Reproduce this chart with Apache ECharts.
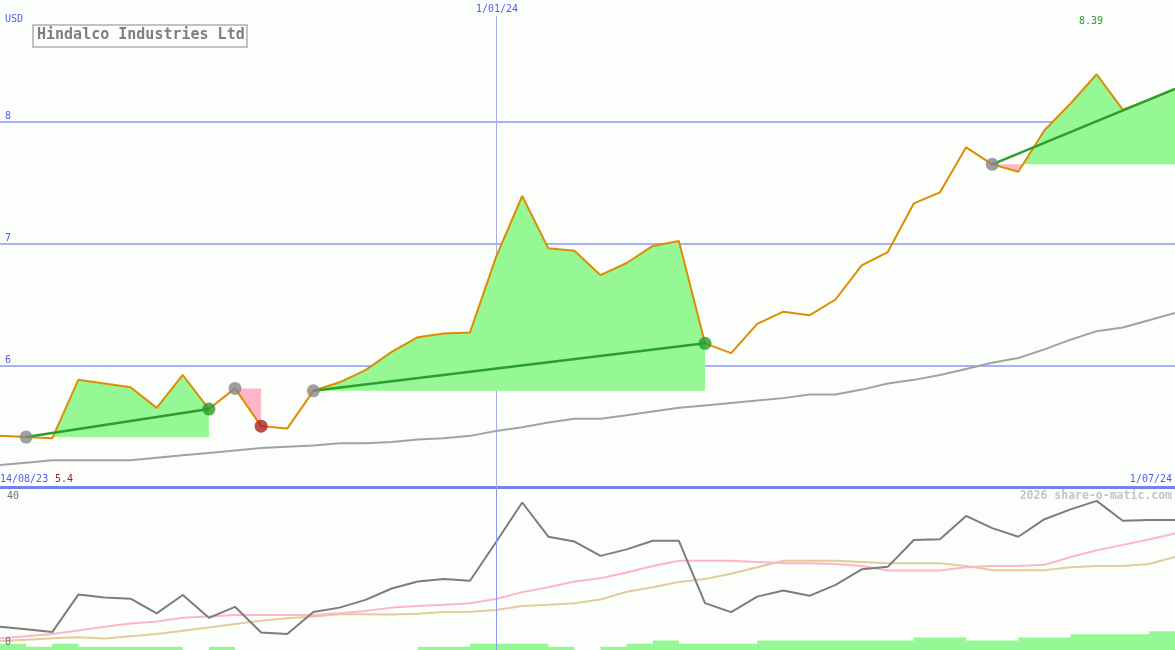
<!DOCTYPE html>
<html>
<head>
<meta charset="utf-8">
<script src="https://cdn.jsdelivr.net/npm/echarts@6/dist/echarts.min.js"></script>
<style>
html,body{margin:0;padding:0;background:#fcfefc;}
#chart{width:1175px;height:650px;}
</style>
</head>
<body>
<div id="chart"></div>
<script>
// ---- data (weekly, 14/08/23 .. 1/07/24) ----
const title = 'Hindalco Industries Ltd';
const currency = 'USD';
const dateStart = '14/08/23';
const dateMid = '1/01/24';
const dateMidIndex = 19;
const dateEnd = '1/07/24';
const priceTicks = [6, 7, 8];
const oscTicks = [0, 40];
const watermark = '2026 share-o-matic.com';

const price = [5.42, 5.41, 5.40, 5.88, 5.85, 5.82, 5.65, 5.92, 5.64, 5.81,
  5.50, 5.48, 5.79, 5.86, 5.96, 6.11, 6.23, 6.26, 6.27, 6.89,
  7.39, 6.96, 6.94, 6.74, 6.84, 6.98, 7.02, 6.18, 6.10, 6.34,
  6.44, 6.41, 6.54, 6.82, 6.93, 7.33, 7.42, 7.79, 7.65, 7.59,
  7.93, 8.15, 8.39, 8.10, 8.18, 8.27];

const priceAvg = [5.18, 5.20, 5.22, 5.22, 5.22, 5.22, 5.24, 5.26, 5.28, 5.30,
  5.32, 5.33, 5.34, 5.36, 5.36, 5.37, 5.39, 5.40, 5.42, 5.46,
  5.49, 5.53, 5.56, 5.56, 5.59, 5.62, 5.65, 5.67, 5.69, 5.71,
  5.73, 5.76, 5.76, 5.80, 5.85, 5.88, 5.92, 5.97, 6.02, 6.06,
  6.13, 6.21, 6.28, 6.31, 6.37, 6.43];

const oscMain = [5.7, 5.1, 4.4, 13.6, 12.9, 12.6, 9.0, 13.5, 7.9, 10.6,
  4.3, 3.9, 9.3, 10.4, 12.3, 15.1, 16.8, 17.4, 17.0, 26.5,
  36.2, 27.8, 26.6, 23.1, 24.7, 26.8, 26.8, 11.5, 9.3, 13.1,
  14.6, 13.3, 16.0, 19.8, 20.4, 27.0, 27.2, 32.9, 29.9, 27.8,
  32.1, 34.5, 36.6, 31.7, 31.9, 31.9];

const oscFast = [2.9, 3.4, 3.9, 4.8, 5.7, 6.5, 7.0, 7.9, 8.2, 8.6,
  8.6, 8.6, 8.6, 9.0, 9.6, 10.4, 10.8, 11.1, 11.5, 12.5,
  14.2, 15.4, 16.8, 17.6, 19.0, 20.6, 21.9, 21.9, 21.9, 21.6,
  21.3, 21.3, 21.1, 20.6, 19.5, 19.5, 19.5, 20.3, 20.6, 20.6,
  20.9, 22.8, 24.5, 25.8, 27.1, 28.6];

const oscSlow = [2.2, 2.5, 2.9, 3.1, 2.8, 3.4, 3.9, 4.7, 5.5, 6.4,
  7.2, 7.8, 8.2, 8.8, 8.8, 8.7, 8.9, 9.3, 9.4, 9.8,
  10.8, 11.1, 11.5, 12.4, 14.3, 15.4, 16.7, 17.4, 18.7, 20.3,
  21.9, 21.9, 21.9, 21.6, 21.3, 21.3, 21.3, 20.6, 19.6, 19.6,
  19.6, 20.3, 20.6, 20.6, 21.1, 22.8];

// volume level for each week (drawn as a step from that week to the next)
const volume = [2, 1, 2, 1, 1, 1, 1, 0, 1, 0,
  0, 0, 0, 0, 0, 0, 1, 1, 2, 2,
  2, 1, 0, 1, 2, 3, 2, 2, 2, 3,
  3, 3, 3, 3, 3, 4, 4, 3, 3, 4,
  4, 5, 5, 5, 6, 6];

// trend signals: start week, end week, kind
const signalStart = [1, 9, 12, 38];
const signalEnd = [8, 10, 27, 45];
const signalKind = ['up', 'down', 'up', 'open'];

// ---- chart ----
const MONO = '"DejaVu Sans Mono", "Liberation Mono", monospace';
const BLUE = '#5060f0';
const chart = echarts.init(document.getElementById('chart'), null, {renderer: 'canvas'});

const idx = (arr) => arr.map((v, i) => [i, v]);
const lastIdx = price.length - 1;
const pmin = Math.min(...price), pmax = Math.max(...price);
const fmt = (v) => String(+v.toFixed(2));

function fillRender(params, api) {
  const s = api.value(0), e = api.value(1);
  const base = api.coord([s, price[s]])[1];
  const pts = [];
  for (let i = s; i <= e; i++) pts.push(api.coord([i, price[i]]));
  const up = [[pts[0][0], base]], dn = [[pts[0][0], base]];
  for (let k = 0; k < pts.length; k++) {
    const p = pts[k];
    if (k > 0) {
      const q = pts[k - 1];
      if ((q[1] - base) * (p[1] - base) < 0) {
        const t = (base - q[1]) / (p[1] - q[1]);
        const cx = q[0] + t * (p[0] - q[0]);
        up.push([cx, base]); dn.push([cx, base]);
      }
    }
    up.push([p[0], Math.min(p[1], base)]);
    dn.push([p[0], Math.max(p[1], base)]);
  }
  const xe = pts[pts.length - 1][0];
  up.push([xe, base]); dn.push([xe, base]);
  return {type: 'group', children: [
    {type: 'polygon', shape: {points: up}, style: {fill: '#96f894'}},
    {type: 'polygon', shape: {points: dn}, style: {fill: '#ffb6c9'}}
  ]};
}

const trendSeries = signalStart.map((s, k) => ({
  type: 'line', xAxisIndex: 0, yAxisIndex: 0, z: 6,
  data: signalKind[k] === 'down' ? [] : [[s, price[s]], [signalEnd[k], price[signalEnd[k]]]],
  symbol: 'none', silent: true,
  lineStyle: {color: '#2c9e2c', width: 2.5}
}));

const markerSeries = [
  {pts: signalStart.map(s => [s, price[s]]), color: '#878787'},
  {pts: signalEnd.filter((e, k) => signalKind[k] === 'up').map(e => [e, price[e]]), color: '#2a9a2a'},
  {pts: signalEnd.filter((e, k) => signalKind[k] === 'down').map(e => [e, price[e]]), color: '#aa2222'}
].map(m => ({
  type: 'scatter', xAxisIndex: 0, yAxisIndex: 0, z: 8, silent: true,
  data: m.pts, symbol: 'circle', symbolSize: 13,
  itemStyle: {color: m.color}
}));

const option = {
  backgroundColor: '#fcfefc',
  animation: false,
  grid: [
    {left: 0, right: 0, top: 0, height: 487, containLabel: false, outerBoundsMode: 'none'},
    {left: 0, right: 0, top: 487, height: 163, containLabel: false, outerBoundsMode: 'none'}
  ],
  xAxis: [
    {type: 'value', gridIndex: 0, min: 0, max: lastIdx,
      axisLine: {show: true, onZero: false, lineStyle: {color: '#7282f0', width: 3}},
      axisTick: {show: false}, axisLabel: {show: false}, splitLine: {show: false}},
    {type: 'value', gridIndex: 1, min: 0, max: lastIdx,
      axisLine: {show: false}, axisTick: {show: false}, axisLabel: {show: false}, splitLine: {show: false}}
  ],
  yAxis: [
    {type: 'value', gridIndex: 0, min: 5, max: 9, interval: 1,
      axisLine: {show: false}, axisTick: {show: false},
      splitLine: {show: true, showMinLine: false, showMaxLine: false, lineStyle: {color: '#a8b2f2', width: 2}},
      axisLabel: {show: true, inside: true, margin: 5, color: BLUE, fontSize: 10, fontFamily: MONO,
        verticalAlign: 'bottom', showMinLabel: false, showMaxLabel: false,
        formatter: (v) => priceTicks.includes(v) ? String(v) : ''}},
    {type: 'value', gridIndex: 1, min: oscTicks[0], max: oscTicks[1],
      axisLine: {show: false}, axisTick: {show: false}, axisLabel: {show: false}, splitLine: {show: false}},
    {type: 'value', gridIndex: 1, min: 0, max: 52,
      axisLine: {show: false}, axisTick: {show: false}, axisLabel: {show: false}, splitLine: {show: false}}
  ],
  series: [
    {type: 'custom', xAxisIndex: 0, yAxisIndex: 0, z: 2, silent: true, clip: false,
      data: signalStart.map((s, k) => [s, signalEnd[k]]),
      renderItem: fillRender},
    {type: 'line', xAxisIndex: 0, yAxisIndex: 0, z: 3, data: idx(priceAvg), symbol: 'none', silent: true,
      lineStyle: {color: '#a2a2a2', width: 2},
      markLine: {silent: true, symbol: 'none', label: {show: false}, z: 1,
        lineStyle: {color: '#a6aeea', width: 1, type: 'solid'},
        data: [[{coord: [dateMidIndex, 8.87]}, {coord: [dateMidIndex, 5]}]]}},
    {type: 'line', xAxisIndex: 0, yAxisIndex: 0, z: 5, data: idx(price), symbol: 'none', silent: true,
      lineStyle: {color: '#de8c00', width: 2}},
    ...trendSeries,
    ...markerSeries,
    {type: 'line', xAxisIndex: 1, yAxisIndex: 2, z: 2, data: idx(volume), step: 'end', symbol: 'none', silent: true,
      lineStyle: {width: 0, color: '#96f894'}, areaStyle: {color: '#96f894', opacity: 1}},
    {type: 'line', xAxisIndex: 1, yAxisIndex: 1, z: 3, data: idx(oscSlow), symbol: 'none', silent: true,
      lineStyle: {color: '#e2cc9c', width: 2}},
    {type: 'line', xAxisIndex: 1, yAxisIndex: 1, z: 3, data: idx(oscFast), symbol: 'none', silent: true,
      lineStyle: {color: '#ffb4c8', width: 2}},
    {type: 'line', xAxisIndex: 1, yAxisIndex: 1, z: 4, data: idx(oscMain), symbol: 'none', silent: true,
      lineStyle: {color: '#7c7c7c', width: 2},
      markLine: {silent: true, symbol: 'none', label: {show: false},
        lineStyle: {color: '#8e9ae8', width: 1, type: 'solid'},
        data: [[{coord: [dateMidIndex, oscTicks[1]]}, {coord: [dateMidIndex, oscTicks[0]]}]]}}
  ],
  graphic: [
    {type: 'text', left: 5, top: 14, z: 20, style: {text: currency, fill: BLUE, font: '10px ' + MONO}},
    {type: 'rect', shape: {x: 33, y: 25, width: 214, height: 22}, z: 20,
      style: {fill: '#fcfefc', stroke: '#c2c2c2', lineWidth: 2}},
    {type: 'text', left: 37, top: 28, z: 21,
      style: {text: title, fill: '#7e7e7e', font: 'bold 15px ' + MONO}},
    {type: 'text', x: 497, y: 4, z: 20, style: {text: dateMid, fill: BLUE, font: '10px ' + MONO, align: 'center'}},
    {type: 'text', x: 1091, y: 16, z: 20, style: {text: fmt(pmax), fill: '#2c9e2c', font: '10px ' + MONO, align: 'center'}},
    {type: 'text', x: 0, y: 474, z: 20, style: {text: dateStart, fill: BLUE, font: '10px ' + MONO}},
    {type: 'text', x: 55, y: 474, z: 20, style: {text: fmt(pmin), fill: '#a02020', font: '10px ' + MONO}},
    {type: 'text', x: 1172, y: 474, z: 20, style: {text: dateEnd, fill: BLUE, font: '10px ' + MONO, align: 'right'}},
    {type: 'text', x: 1172, y: 490, z: 20, style: {text: watermark, fill: '#c4c4c4', font: 'bold 11.5px ' + MONO, align: 'right'}},
    {type: 'text', x: 7, y: 491, z: 20, style: {text: String(oscTicks[1]), fill: '#707070', font: '10px ' + MONO}},
    {type: 'text', x: 5, y: 637, z: 20, style: {text: String(oscTicks[0]), fill: '#707070', font: '10px ' + MONO}}
  ]
};
chart.setOption(option);
</script>
</body>
</html>
